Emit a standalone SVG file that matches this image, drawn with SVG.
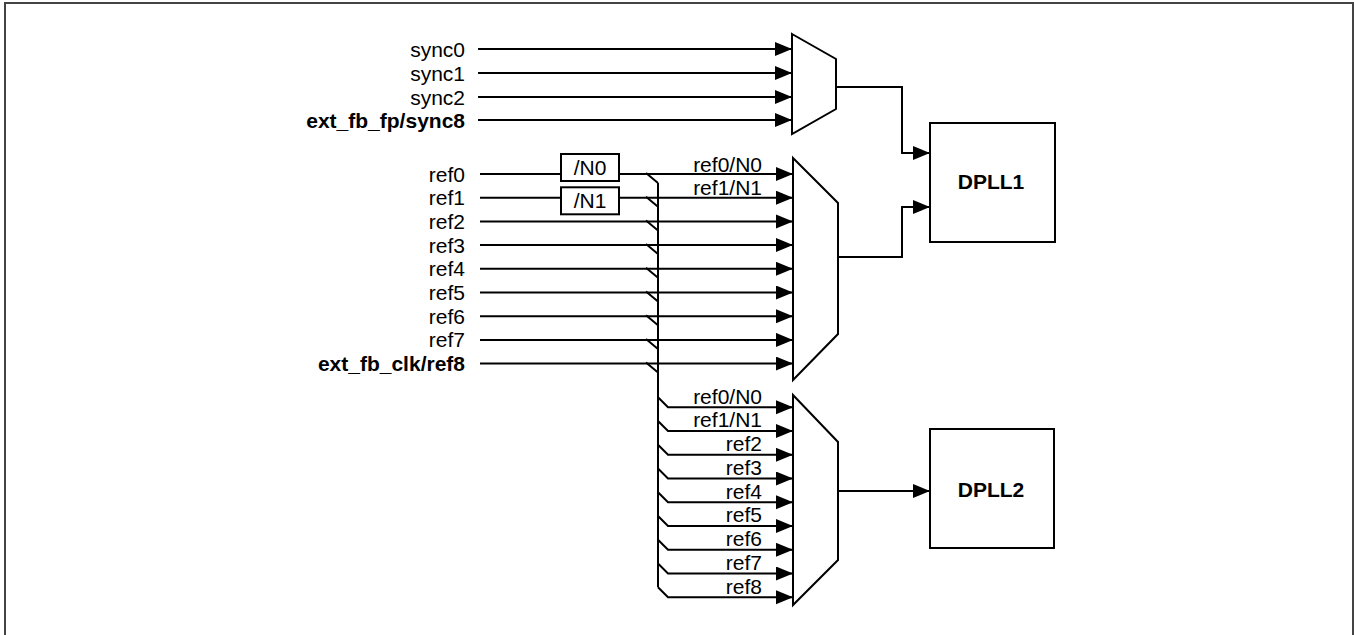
<svg xmlns="http://www.w3.org/2000/svg" width="1354" height="635" viewBox="0 0 1354 635">
<style>
.ln{fill:none;stroke:#000;stroke-width:2}
.arr{fill:none;stroke:#000;stroke-width:2;marker-end:url(#ah)}
.shape{fill:#fff;stroke:#000;stroke-width:2}
.t{font-family:"Liberation Sans",Arial,sans-serif;font-size:21px;fill:#000}
.b{font-weight:bold}
.e{text-anchor:end}
.m{text-anchor:middle}
</style>
<defs>
<marker id="ah" markerUnits="userSpaceOnUse" markerWidth="18" markerHeight="15" refX="17" refY="7" orient="auto">
<path d="M0,0 L17,7 L0,14 Z" fill="#000"/>
</marker>
</defs>
<rect x="5" y="3" width="1348" height="640" fill="#fff" stroke="#444" stroke-width="2"/>

<g id="connectors">
<line class="arr" x1="478" y1="49" x2="792" y2="49"/>
<line class="arr" x1="478" y1="73" x2="792" y2="73"/>
<line class="arr" x1="478" y1="97" x2="792" y2="97"/>
<line class="arr" x1="478" y1="120" x2="792" y2="120"/>
<line class="ln" x1="480" y1="174" x2="561" y2="174"/>
<line class="arr" x1="619" y1="174" x2="793" y2="174"/>
<line class="ln" x1="480" y1="197.7" x2="561" y2="197.7"/>
<line class="arr" x1="619" y1="197.7" x2="793" y2="197.7"/>
<line class="arr" x1="480" y1="221.4" x2="793" y2="221.4"/>
<line class="arr" x1="480" y1="245.1" x2="793" y2="245.1"/>
<line class="arr" x1="480" y1="268.8" x2="793" y2="268.8"/>
<line class="arr" x1="480" y1="292.5" x2="793" y2="292.5"/>
<line class="arr" x1="480" y1="316.2" x2="793" y2="316.2"/>
<line class="arr" x1="480" y1="339.9" x2="793" y2="339.9"/>
<line class="arr" x1="480" y1="363.6" x2="793" y2="363.6"/>
<path class="ln" d="M646,173 L658,183 M646,196.7 L658,206.7 M646,220.4 L658,230.4 M646,244.1 L658,254.1 M646,267.8 L658,277.8 M646,291.5 L658,301.5 M646,315.2 L658,325.2 M646,338.9 L658,348.9 M646,362.6 L658,372.6"/>
<line class="ln" x1="658" y1="183" x2="658" y2="587.3"/>
<path class="arr" d="M658,397.3 L668,407.3 L793,407.3"/>
<path class="arr" d="M658,421 L668,431 L793,431"/>
<path class="arr" d="M658,444.8 L668,454.8 L793,454.8"/>
<path class="arr" d="M658,468.5 L668,478.5 L793,478.5"/>
<path class="arr" d="M658,492.3 L668,502.3 L793,502.3"/>
<path class="arr" d="M658,516 L668,526 L793,526"/>
<path class="arr" d="M658,539.8 L668,549.8 L793,549.8"/>
<path class="arr" d="M658,563.5 L668,573.5 L793,573.5"/>
<path class="arr" d="M658,587.3 L668,597.3 L793,597.3"/>
<path class="arr" d="M836,87 L902,87 L902,153 L930,153"/>
<path class="arr" d="M838,257 L902,257 L902,207 L930,207"/>
<path class="arr" d="M838,491 L930,491"/>
</g>

<g id="labels-in">
<text class="t e" x="465" y="56.5">sync0</text>
<text class="t e" x="465" y="80.5">sync1</text>
<text class="t e" x="465" y="104.5">sync2</text>
<text class="t e b" x="465" y="127.5">ext_fb_fp/sync8</text>
<text class="t e" x="465" y="181.5">ref0</text>
<text class="t e" x="465" y="205.2">ref1</text>
<text class="t e" x="465" y="228.9">ref2</text>
<text class="t e" x="465" y="252.6">ref3</text>
<text class="t e" x="465" y="276.3">ref4</text>
<text class="t e" x="465" y="300">ref5</text>
<text class="t e" x="465" y="323.7">ref6</text>
<text class="t e" x="465" y="347.4">ref7</text>
<text class="t e b" x="465" y="371.1">ext_fb_clk/ref8</text>
</g>

<g id="div-n0">
<rect class="shape" x="561" y="154" width="58" height="27"/>
<text class="t m" x="590" y="175">/N0</text>
</g>
<g id="div-n1">
<rect class="shape" x="561" y="187.3" width="58" height="27"/>
<text class="t m" x="590" y="208.3">/N1</text>
</g>

<g id="mux-sync">
<polygon class="shape" points="792,34 836,59 836,109 792,134"/>
</g>
<g id="mux-ref1">
<polygon class="shape" points="793,158 838,203 838,334 793,380"/>
<text class="t e" x="762" y="171.5">ref0/N0</text>
<text class="t e" x="762" y="195">ref1/N1</text>
</g>
<g id="mux-ref2">
<polygon class="shape" points="793,395 838,442 838,560 793,605"/>
<text class="t e" x="762" y="403.5">ref0/N0</text>
<text class="t e" x="762" y="427.2">ref1/N1</text>
<text class="t e" x="762" y="451">ref2</text>
<text class="t e" x="762" y="474.7">ref3</text>
<text class="t e" x="762" y="498.5">ref4</text>
<text class="t e" x="762" y="522.2">ref5</text>
<text class="t e" x="762" y="546">ref6</text>
<text class="t e" x="762" y="569.7">ref7</text>
<text class="t e" x="762" y="593.5">ref8</text>
</g>

<g id="dpll1">
<rect class="shape" x="930" y="123" width="125" height="119"/>
<text class="t m b" x="991" y="189">DPLL1</text>
</g>
<g id="dpll2">
<rect class="shape" x="930" y="429" width="124" height="119"/>
<text class="t m b" x="991" y="496.5">DPLL2</text>
</g>
</svg>
